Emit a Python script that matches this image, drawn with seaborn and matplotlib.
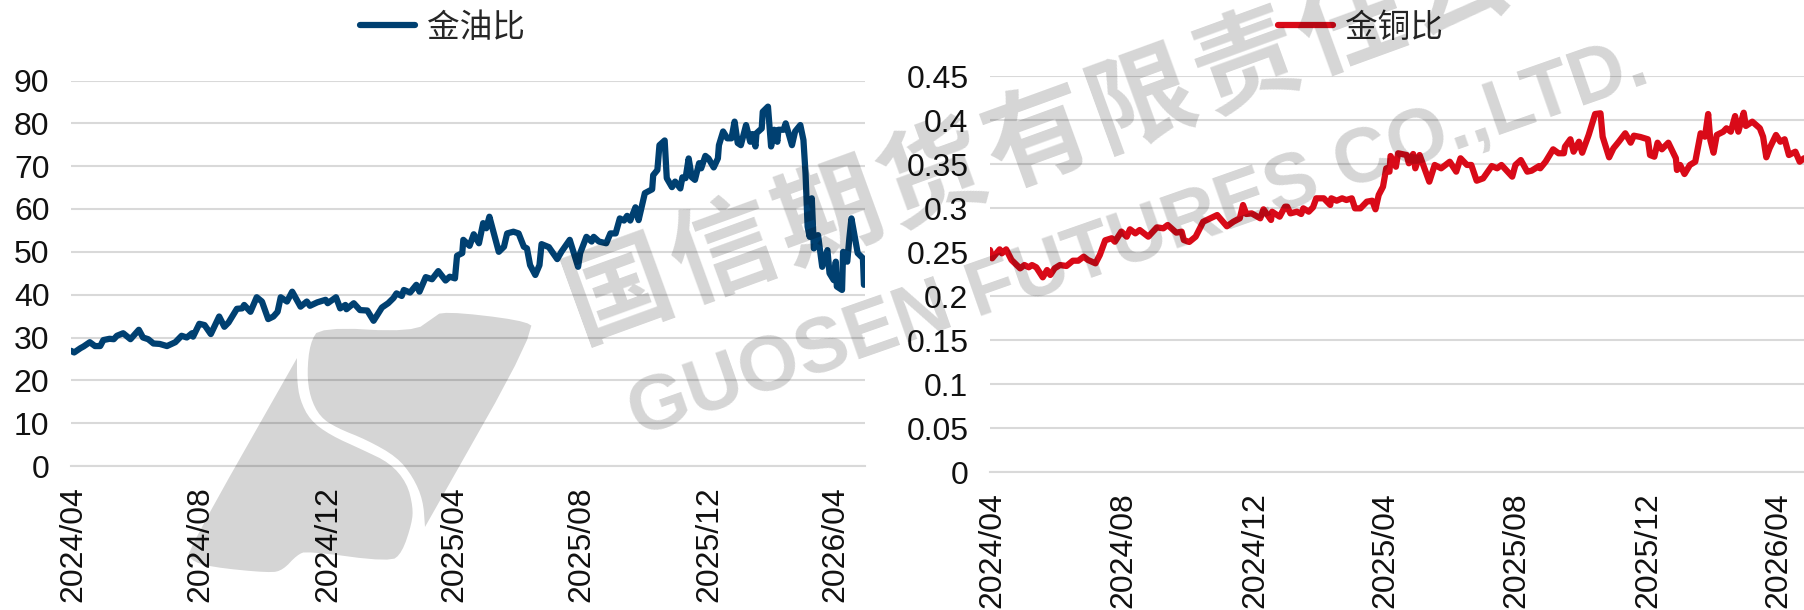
"""Gold/oil and gold/copper ratio charts with the company watermark."""
import matplotlib
matplotlib.use('Agg')  # Non-interactive backend
import matplotlib.dates as mdates
import matplotlib.pyplot as plt
from matplotlib.patches import Polygon
from matplotlib.transforms import ScaledTranslation
import numpy as np
import pandas as pd
import seaborn as sns

start_date = pd.Timestamp('2024-04-01')
tick_dates = pd.date_range('2024-04-01', '2026-04-01', freq='4MS')

# days since start_date, ratio values
oil_days = [0, 3, 9, 12, 18, 23, 28, 31, 37, 41, 44, 50, 57, 65, 69, 74, 79, 85, 92, 100,
            106, 111, 116, 117, 123, 128, 134, 142, 147, 151, 159, 164, 166, 172, 178, 183,
            189, 194, 198, 201, 207, 212, 220, 226, 229, 236, 244, 246, 254, 258, 263, 264,
            271, 277, 284, 290, 298, 304, 309, 312, 317, 319, 325, 331, 334, 340, 346, 352,
            359, 363, 368, 370, 375, 376, 382, 386, 391, 395, 398, 401, 410, 415, 418, 424,
            429, 434, 437, 440, 445, 449, 451, 458, 466, 470, 478, 486, 488, 494, 499, 501,
            506, 513, 517, 522, 526, 530, 533, 536, 541, 544, 550, 557, 558, 562, 564, 569,
            571, 576, 579, 584, 586, 589, 592, 595, 598, 602, 604, 608, 611, 616, 620, 621,
            625, 629, 633, 636, 639, 642, 647, 651, 653, 656, 657, 662, 663, 668, 671, 674,
            677, 678, 683, 685, 691, 694, 699, 702, 704, 705, 706, 708, 710, 712, 716, 720,
            725, 727, 731, 733, 734, 739, 740, 744, 746, 748, 754, 759, 760]
gold_oil = [26.9, 26.5, 27.5, 27.9, 28.9, 28.0, 28.0, 29.4, 29.7, 29.6, 30.4, 31.0, 29.6, 31.8,
            30.0, 29.6, 28.6, 28.5, 28.0, 28.9, 30.4, 30.0, 31.0, 30.2, 33.2, 32.9, 30.8, 34.9,
            32.5, 33.5, 36.7, 36.8, 37.6, 36.0, 39.4, 38.4, 34.3, 34.9, 36.0, 39.4, 38.4, 40.7,
            37.2, 38.4, 37.4, 38.2, 38.8, 38.0, 39.4, 36.8, 37.6, 36.6, 38.0, 36.4, 36.3, 33.9,
            37.0, 38.0, 39.2, 40.3, 39.7, 41.1, 40.5, 42.3, 40.7, 44.1, 43.6, 45.5, 43.3, 44.2,
            43.8, 49.1, 49.7, 52.8, 51.4, 54.1, 52.0, 56.7, 55.5, 58.2, 50.0, 51.2, 54.3, 54.7,
            54.3, 51.2, 50.8, 46.9, 44.6, 46.9, 51.8, 51.1, 48.3, 50.0, 52.8, 46.5, 49.7, 53.5,
            52.4, 53.5, 52.4, 52.0, 54.3, 54.3, 57.8, 57.3, 58.4, 57.3, 60.4, 57.4, 63.7, 64.6,
            67.9, 69.1, 74.9, 76.0, 67.2, 65.1, 66.4, 64.8, 67.4, 67.2, 71.8, 67.4, 66.8, 70.7,
            69.5, 72.4, 71.8, 69.7, 71.8, 74.9, 78.1, 76.5, 76.5, 80.4, 75.4, 74.9, 79.6, 75.7,
            77.5, 74.6, 77.7, 78.8, 82.7, 83.9, 74.6, 78.5, 75.7, 78.5, 78.5, 80.0, 74.9, 78.1,
            79.6, 76.1, 68.3, 62.1, 55.9, 53.5, 62.5, 50.8, 53.9, 46.5, 50.4, 45.0, 43.4, 47.7,
            41.9, 41.1, 50.0, 47.7, 53.2, 57.8, 49.7, 48.5, 42.3]

copper_days = [0, 2, 9, 11, 15, 20, 28, 32, 36, 39, 43, 49, 53, 56, 60, 65, 71, 77, 82, 87,
               91, 98, 102, 107, 113, 116, 122, 127, 130, 135, 139, 147, 155, 161, 165, 173,
               178, 180, 185, 191, 198, 211, 220, 226, 232, 235, 238, 243, 251, 254, 261, 262,
               269, 274, 276, 279, 285, 289, 291, 296, 300, 303, 310, 316, 317, 322, 327, 331,
               336, 339, 344, 350, 355, 358, 361, 365, 368, 371, 372, 377, 379, 387, 389, 393,
               395, 399, 408, 413, 419, 427, 433, 437, 443, 447, 452, 458, 466, 471, 475, 485,
               488, 493, 499, 503, 510, 511, 516, 523, 528, 533, 534, 539, 542, 547, 550, 556,
               562, 567, 569, 575, 579, 584, 590, 595, 598, 604, 611, 613, 617, 620, 624, 630,
               637, 638, 641, 645, 650, 655, 660, 664, 667, 669, 672, 675, 681, 684, 688, 692,
               695, 700, 702, 708, 715, 718, 721, 724, 730, 734, 738, 742, 748, 752, 756]
gold_copper = [0.2523, 0.2428, 0.2530, 0.2485, 0.2530, 0.2409, 0.2314, 0.2352, 0.2326, 0.2352,
               0.2326, 0.2212, 0.2295, 0.2239, 0.2314, 0.2352, 0.2341, 0.2401, 0.2401, 0.2447,
               0.2409, 0.2371, 0.2466, 0.2633, 0.2656, 0.2617, 0.2732, 0.2674, 0.2758, 0.2712,
               0.2750, 0.2674, 0.2780, 0.2769, 0.2807, 0.2720, 0.2731, 0.2636, 0.2614, 0.2674,
               0.2844, 0.2920, 0.2792, 0.2844, 0.2883, 0.3034, 0.2932, 0.2939, 0.2883, 0.2985,
               0.2864, 0.2958, 0.2901, 0.3015, 0.3015, 0.2939, 0.2958, 0.2932, 0.2996, 0.2958,
               0.3008, 0.3110, 0.3110, 0.3034, 0.3110, 0.3083, 0.3110, 0.3091, 0.3110, 0.2996,
               0.2996, 0.3072, 0.3083, 0.2985, 0.3148, 0.3242, 0.3451, 0.3413, 0.3591, 0.3469,
               0.3622, 0.3602, 0.3508, 0.3614, 0.3451, 0.3602, 0.3299, 0.3489, 0.3451, 0.3526,
               0.3413, 0.3565, 0.3489, 0.3489, 0.3310, 0.3337, 0.3477, 0.3451, 0.3489, 0.3356,
               0.3489, 0.3545, 0.3413, 0.3424, 0.3477, 0.3451, 0.3526, 0.3667, 0.3622, 0.3622,
               0.3697, 0.3781, 0.3640, 0.3753, 0.3628, 0.3830, 0.4068, 0.4076, 0.3810, 0.3576,
               0.3678, 0.3753, 0.3849, 0.3742, 0.3822, 0.3807, 0.3781, 0.3602, 0.3583, 0.3742,
               0.3667, 0.3742, 0.3565, 0.3432, 0.3489, 0.3386, 0.3489, 0.3526, 0.3849, 0.3810,
               0.4068, 0.3773, 0.3628, 0.3830, 0.3867, 0.3906, 0.3867, 0.4045, 0.3867, 0.4083,
               0.3932, 0.3981, 0.3906, 0.3810, 0.3576, 0.3678, 0.3830, 0.3753, 0.3781, 0.3602,
               0.3640, 0.3526, 0.3565]

oil_ticks = [0, 10, 20, 30, 40, 50, 60, 70, 80, 90]
copper_ticks = [0, 0.05, 0.1, 0.15, 0.2, 0.25, 0.3, 0.35, 0.4, 0.45]

# logo outlines in pixels of the 1804x610 picture, tips repeated to stay sharp
logo_upper = [(320, 327), (413, 332), (433, 318), (443, 311), (522, 320), (537, 329), (425, 527),
              (425, 527), (425, 527), (423, 500), (413, 477), (397, 457), (367, 440), (337, 428),
              (320, 417), (310, 397), (307, 373), (310, 343)]
logo_lower = [(297, 358), (297, 358), (297, 358), (188, 550), (190, 560), (210, 567), (270, 573),
              (283, 570), (297, 555), (307, 551), (390, 562), (402, 553), (412, 523), (413, 507),
              (407, 483), (390, 463), (363, 450), (330, 435), (310, 420), (300, 400), (297, 380)]

NAVY = '#004071'
RED = '#D90A18'
GRID = '#D9D9D9'
WIDTH, HEIGHT = 1804, 610
MARK_ALPHA = 0.165


def smooth_outline(points, rounds=2):
    """Corner-cut a closed outline so the logo edges look rounded."""
    pts = np.array(points, dtype=float)
    for _ in range(rounds):
        nxt = np.roll(pts, -1, axis=0)
        pts = np.column_stack([0.75 * pts + 0.25 * nxt, 0.25 * pts + 0.75 * nxt]).reshape(-1, 2)
    return pts / [WIDTH, HEIGHT] * [1, -1] + [0, 1]


def draw_ratio(ax, days, values, color, label, yticks, ylabels, x_end, legend_x):
    df = pd.DataFrame({'date': start_date + pd.to_timedelta(days, unit='D'), 'ratio': values})
    sns.lineplot(data=df, x='date', y='ratio', ax=ax, color=color, linewidth=4.5,
                 estimator=None, label=label, solid_capstyle='round')
    ax.set_xlim(start_date, start_date + pd.Timedelta(days=x_end))
    ax.set_ylim(yticks[0], yticks[-1])
    ax.set_xlabel('')
    ax.set_ylabel('')
    ax.set_yticks(yticks, labels=ylabels)
    ax.set_xticks(tick_dates)
    ax.xaxis.set_major_formatter(mdates.DateFormatter('%Y/%m'))
    ax.tick_params(axis='y', length=0, pad=15.5, labelsize=23, labelcolor='#111111')
    ax.tick_params(axis='x', length=8.5, width=1.1, color=GRID, pad=6, labelsize=23,
                   labelrotation=90, labelcolor='#111111')
    shift = ScaledTranslation(1.8 / 72, 0, ax.figure.dpi_scale_trans)
    for lbl in ax.get_xticklabels():
        lbl.set_transform(lbl.get_transform() + shift)
    ax.grid(True, axis='y', color=GRID, linewidth=1.5)
    ax.grid(False, axis='x')
    ax.set_axisbelow(True)
    sns.despine(ax=ax, left=True)
    ax.spines['bottom'].set_color(GRID)
    ax.spines['bottom'].set_linewidth(1.5)
    ax.legend(loc='center', bbox_to_anchor=(legend_x / WIDTH, 1 - 28 / HEIGHT),
              bbox_transform=ax.figure.transFigure, frameon=False, fontsize=23.5,
              handlelength=1.7, handletextpad=0.35, borderpad=0, borderaxespad=0)


sns.set_theme(style='white')
plt.rcParams['font.family'] = ['Liberation Sans', 'Noto Sans CJK SC', 'DejaVu Sans']

fig = plt.figure(figsize=(WIDTH / 100, HEIGHT / 100), dpi=100)
ax_oil = fig.add_axes([71 / WIDTH, 1 - 466 / HEIGHT, 794 / WIDTH, 385.5 / HEIGHT])
ax_copper = fig.add_axes([990 / WIDTH, 1 - 472 / HEIGHT, 814 / WIDTH, 396 / HEIGHT])

draw_ratio(ax_oil, oil_days, gold_oil, NAVY, '金油比', oil_ticks,
           [str(t) for t in oil_ticks], 761, 442)
draw_ratio(ax_copper, copper_days, gold_copper, RED, '金铜比', copper_ticks,
           [f'{t:g}' for t in copper_ticks], 756, 1360)

# watermark sits on top of both charts
for outline in (logo_upper, logo_lower):
    fig.add_artist(Polygon(smooth_outline(outline), closed=True, transform=fig.transFigure,
                           facecolor='black', edgecolor='none', alpha=MARK_ALPHA))
# the Chinese name is letter-spaced, so each character is placed on its own
for i, char in enumerate('国信期货有限责任公司'):
    fig.text((620 + 104.5 * i) / WIDTH, 1 - (292 - 38 * i) / HEIGHT, char, fontsize=76, rotation=20,
             family=['Noto Sans CJK SC'], weight='bold', color='black', alpha=MARK_ALPHA,
             ha='center', va='center', rotation_mode='anchor')
fig.text(1138 / WIDTH, 1 - 240 / HEIGHT, 'GUOSEN FUTURES CO.,LTD.', fontsize=56, rotation=19.3,
         family=['Liberation Sans'], weight='bold', color='black', alpha=MARK_ALPHA,
         ha='center', va='center', rotation_mode='anchor')

fig.savefig('out.png', dpi=100)
plt.close(fig)
